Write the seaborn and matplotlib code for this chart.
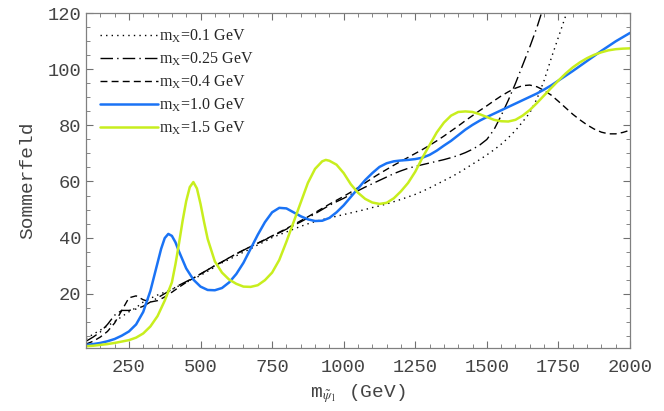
import matplotlib
matplotlib.use('Agg')
import matplotlib.pyplot as plt
import seaborn as sns
import numpy as np

# mass of psi_1 in GeV (common grid, read every 25 GeV)
mass = list(range(100, 2001, 25))

som_01 = [4, 5.5, 7, 8.5, 10, 11.8, 13.5, 15, 17, 18.3, 19.5, 20.5, 21.5, 22.8, 24, 25.2,
          26.5, 28, 29.5, 31, 32.2, 33.5, 34.8, 36, 37.4, 38.6, 40, 41, 42, 43, 44, 44.9,
          45.7, 46.4, 47, 47.6, 48.2, 48.8, 49.4, 50, 50.7, 51.3, 52, 52.8, 53.6, 54.5,
          55.4, 56.5, 57.7, 59, 60.3, 61.6, 63, 64.6, 66.2, 67.8, 69.5, 71.3, 73.3, 75.6,
          78.2, 81.3, 84.5, 89.5, 96, 104, 111.5, 119, 127]
som_025 = [3, 4.5, 6.3, 9, 12.3, 14, 14, 14.5, 15.5, 17, 18.5, 20, 21.5, 23, 24.3, 25.6,
           27, 28.5, 30, 31.3, 32.8, 34.2, 35.5, 36.8, 38, 39.2, 40.5, 41.7, 43, 44.3,
           45.6, 47, 48.5, 50, 51.5, 52.8, 54, 55.4, 56.7, 58, 59.2, 60.4, 61.6, 62.8,
           63.8, 64.7, 65.4, 66, 66.6, 67.2, 67.8, 68.5, 69.3, 70.3, 71.5, 73, 75, 78.5,
           83.5, 89, 95, 101.5, 108, 115, 123]
som_04 = [2, 3, 4.5, 6.5, 9.5, 14, 18.5, 19.2, 17.8, 17, 17.5, 18.8, 20.5, 22.3, 24, 25.5,
          27, 28.5, 30, 31.3, 32.8, 34.2, 35.5, 36.8, 38, 39.3, 40.6, 41.9, 43.2, 44.6,
          46, 47.4, 48.9, 50.4, 51.9, 53.3, 54.7, 56.2, 57.8, 59.5, 61.2, 62.8, 64.3,
          65.8, 67.2, 68.6, 70, 71.4, 72.9, 74.5, 76.2, 78, 79.8, 81.7, 83.5, 85.3, 87,
          88.8, 90.5, 92, 93.3, 94.2, 94.4, 93.8, 92.5, 90.8, 88.6, 86.3, 84, 82, 80.2,
          78.7, 77.6, 77, 77, 77.5, 78.3]

# the two resonant curves get a few extra points around their peaks
mass_10 = [100, 125, 150, 175, 200, 225, 250, 275, 300, 325, 350, 362.5, 375, 387.5, 400,
           412.5, 425, 450, 475, 500, 525, 550, 575, 600, 625, 650, 675, 700, 725, 750,
           775, 800, 825, 850, 875, 900, 925, 950, 975] + list(range(1000, 2001, 25))
som_10 = [1.7, 2.0, 2.4, 3.0, 3.8, 5.0, 6.5, 9.0, 13.5, 21, 31, 36, 39.8, 41.3, 40.6,
          38.3, 35, 29, 25, 22.5, 21.3, 21.2, 22, 24, 27, 31, 36, 41, 45.5, 49, 50.6,
          50.4, 49, 47.6, 46.5, 45.9, 46, 47, 49, 51.5, 54.5, 57.5, 60.5, 63, 65.2, 66.5,
          67.2, 67.5, 67.7, 68, 68.5, 69.5, 71, 72.8, 74.5, 76.5, 78.5, 80.2, 81.7, 83,
          84.2, 85.4, 86.6, 87.8, 89, 90.2, 91.4, 92.8, 94.3, 96, 97.7, 99.4, 101.2, 103,
          104.8, 106.6, 108.3, 110, 111.5, 113]
mass_15 = [100, 125, 150, 175, 200, 225, 250, 275, 300, 325, 350, 375, 400, 412.5, 425,
           437.5, 450, 462.5, 475, 487.5, 500, 512.5, 525, 550, 575, 600, 625, 650, 675,
           700, 725, 750, 775, 800, 825, 850, 875, 900, 925, 937.5, 950, 975] \
    + list(range(1000, 2001, 25))
som_15 = [1.2, 1.4, 1.7, 2.0, 2.4, 2.9, 3.4, 4.3, 5.8, 8.3, 12, 17.5, 24, 30.5, 38,
          46, 53, 58, 59.8, 57.5, 52, 45.5, 39.5, 31.5, 27.5, 25, 23.5, 22.5, 22.4,
          23, 24.8, 27.5, 32, 38.5, 45.5, 52.5, 59.5, 64.5, 67.2, 67.7, 67.4, 66,
          63, 59, 56, 53.8, 52.5, 52, 52.4, 54, 56.5, 59.5, 63.5, 68.5, 73, 77.5, 81,
          83.5, 84.8, 85, 84.8, 84, 83, 82, 81.5, 81.4, 82, 83.5, 85.5, 88, 90.7, 93.4,
          96, 98.5, 100.7, 102.5, 104, 105.2, 106.1, 106.8, 107.2, 107.4, 107.5]

labels = ['0.1', '0.25', '0.4', '1.0', '1.5']
xticks = [250, 500, 750, 1000, 1250, 1500, 1750, 2000]
yticks = [20, 40, 60, 80, 100, 120]

sns.set_theme(style='ticks')
plt.rcParams['font.family'] = ['Liberation Mono', 'DejaVu Sans']
plt.rcParams['mathtext.fontset'] = 'stix'

fig = plt.figure(figsize=(6.64, 4.11), dpi=100)
ax = fig.add_axes([0.1295, 0.1533, 0.8193, 0.8143])

series = [(mass, som_01), (mass, som_025), (mass, som_04), (mass_10, som_10), (mass_15, som_15)]
colors = ['black', 'black', 'black', '#1a73f5', '#c8ee1e']
styles = [(0, (1, 3)), (0, (9, 3, 1, 3)), (0, (5, 3)), '-', '-']
widths = [1.0, 1.0, 1.0, 1.8, 1.8]
for (xs, vals), lab, c, ls, lw in zip(series, labels, colors, styles, widths):
    n = len(vals)
    sns.lineplot(x=xs[:n], y=vals, ax=ax, color=c, linestyle=ls, linewidth=lw,
                 solid_joinstyle='round',
                 label=r'm$_\mathregular{X}$=' + lab + ' GeV')

ax.set_xlim(100, 2000)
ax.set_ylim(0.6, 120)
ax.set_xticks(xticks)
ax.set_yticks(yticks)
ax.set_xticks(np.arange(100, 2001, 50), minor=True)
ax.set_yticks(np.arange(5, 120, 5), minor=True)
ax.tick_params(which='both', direction='in', top=True, right=True, colors='#707070',
               labelcolor='#444444', labelsize=13.5)
ax.tick_params(which='major', length=5, width=0.8)
ax.tick_params(which='minor', length=3, width=0.6)
ax.tick_params(axis='x', pad=8)
for sp in ax.spines.values():
    sp.set_color('#808080')
    sp.set_linewidth(0.9)

ax.set_xlabel(r'm$_{\tilde{\psi}_1}$ (GeV)', fontsize=14, color='#444444', labelpad=4)
ax.set_ylabel('Sommerfeld', fontsize=14, color='#444444', labelpad=8)

leg = ax.legend(loc='upper left', frameon=False, handlelength=3.6, handletextpad=0.1,
                labelspacing=0.37, borderaxespad=0.5,
                prop={'family': 'Liberation Serif', 'size': 11.5})

fig.savefig('out.png', dpi=100)
plt.close(fig)
